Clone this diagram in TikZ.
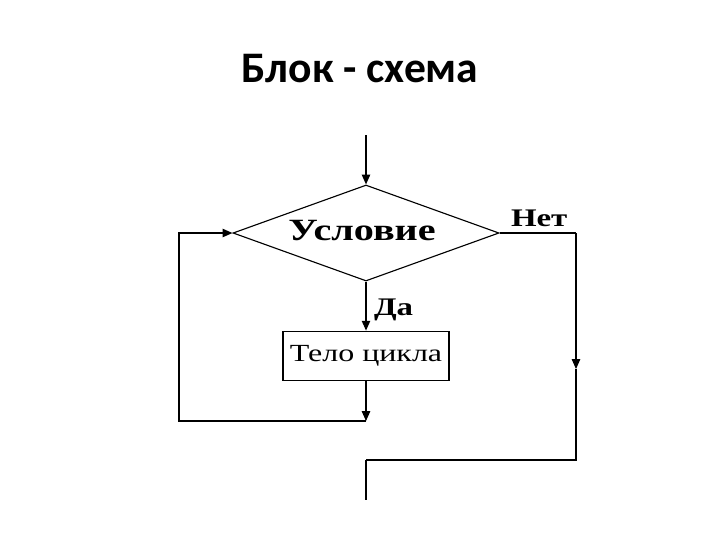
\documentclass[tikz,border=0pt]{standalone}
\usepackage{fontspec}
\setmainfont{Liberation Serif}
\newfontfamily\titlefont{Carlito}
\newfontfamily\wideserif[FakeStretch=1.3]{Liberation Serif}
\usetikzlibrary{shapes.geometric, arrows.meta, positioning, calc}

\tikzset{
  flowline/.style={line width=0.8pt, -{Triangle[length=7pt,width=6pt]}},
  plainline/.style={line width=0.8pt},
}

\begin{document}
\begin{tikzpicture}[x=0.025cm, y=-0.025cm]
                \useasboundingbox (0,0) rectangle (720,540);
                % Title
                \node (title) at (360,69) {\titlefont\bfseries\fontsize{31}{34}\selectfont Блок - схема};
                % Condition
                \node[draw, diamond, line width=0.8pt, aspect=2.77, minimum width=6.65cm, minimum height=2.4cm, inner sep=0pt] (cond) at (366,233) {};
                \node (condtext) at (362,231) {\wideserif\bfseries\fontsize{22}{25}\selectfont Условие};
                \coordinate (entry) at (366,135);
                % Body
                \node[draw, line width=1.1pt, minimum width=4.15cm, minimum height=1.225cm, below=1.225cm of cond.south, anchor=north] (body) {\wideserif\fontsize{17.5}{20}\selectfont Тело цикла};
                % Loop and exit corners
                \coordinate (back) at (366,421);
                \coordinate (corner) at (179,421);
                \coordinate (nocorner) at (576,233);
                \coordinate (nomid) at (576,369);
                \coordinate (nolow) at (576,460);
                \coordinate (exitcorner) at (366,460);
                \coordinate (exit) at (366,500);
                % Connectors
                \draw[flowline] (entry) -- (cond.north);
                \draw[flowline] (cond.south) -- node[right, xshift=2pt, yshift=-3pt] (yes) {\wideserif\bfseries\fontsize{18}{20}\selectfont Да} (body.north);
                \draw[flowline] (body.south) -- (back);
                \draw[flowline] (back) -- (corner) |- (cond.west);
                \draw[plainline] (cond.east) -- node[above, yshift=1pt, xshift=1pt] (no) {\wideserif\bfseries\fontsize{18}{20}\selectfont Нет} (nocorner);
                \draw[flowline] (nocorner) -- (nomid);
                \draw[plainline] (nomid) -- (nolow) -- (exitcorner);
                \draw[line width=1.3pt] (exitcorner) -- (exit);
            \end{tikzpicture}
\end{document}
